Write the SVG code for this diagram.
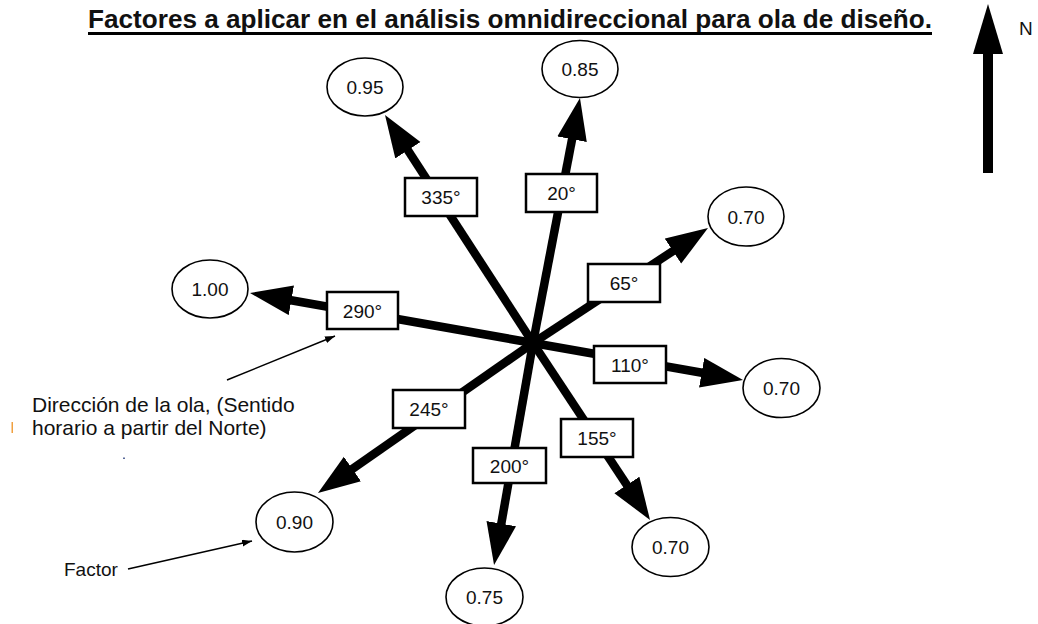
<svg xmlns="http://www.w3.org/2000/svg" width="1038" height="624" viewBox="0 0 1038 624">
<defs>
<style>
text{font-family:"Liberation Sans",Arial,sans-serif;fill:#111}
.lbl{font-size:19px;text-anchor:middle}
.box{fill:#fff;stroke:#000;stroke-width:2.5}
.ell{fill:#fff;stroke:#000;stroke-width:1.6}
.ray{stroke:#000;stroke-width:8.5;fill:none;marker-end:url(#head)}
.thin{stroke:#000;stroke-width:1.5;fill:none;marker-end:url(#small)}
</style>
<marker id="head" markerUnits="userSpaceOnUse" markerWidth="46" markerHeight="32" refX="22" refY="15" orient="auto">
<path d="M0,0 L42,15 L0,30 Z" fill="#000"/>
</marker>
<marker id="small" markerUnits="userSpaceOnUse" markerWidth="12" markerHeight="8" refX="10" refY="3.5" orient="auto">
<path d="M0,0 L10,3.5 L0,7 Z" fill="#000"/>
</marker>
</defs>
<rect width="1038" height="624" fill="#fff"/>
<g id="title">
<text x="88" y="28" font-size="26" font-weight="bold" textLength="844" lengthAdjust="spacingAndGlyphs">Factores a aplicar en el análisis omnidireccional para ola de diseño.</text>
<line x1="88" y1="33.5" x2="932" y2="33.5" stroke="#000" stroke-width="3"/>
</g>
<g id="north">
<rect x="983" y="50" width="10" height="123" fill="#000"/>
<path d="M988,4 L1003,54 L973,54 Z" fill="#000"/>
<text x="1019" y="35" font-size="19">N</text>
</g>
<g id="connectors">
<line class="ray" x1="533" y1="343" x2="395.9" y2="131.8"/>
<line class="ray" x1="533" y1="343" x2="576.2" y2="117.6"/>
<line class="ray" x1="533" y1="343" x2="269.7" y2="296.5"/>
<line class="ray" x1="533" y1="343" x2="691.3" y2="239"/>
<line class="ray" x1="533" y1="343" x2="723.3" y2="376.5"/>
<line class="ray" x1="533" y1="343" x2="639" y2="503.3"/>
<line class="ray" x1="533" y1="343" x2="497.5" y2="545.3"/>
<line class="ray" x1="533" y1="343" x2="334.4" y2="481.6"/>
<line class="thin" x1="227" y1="380" x2="335" y2="336"/>
<line class="thin" x1="128" y1="569" x2="252" y2="541"/>
</g>
<g id="dir335"><rect class="box" x="405" y="178" width="72" height="38"/><text class="lbl" x="441" y="204">335°</text></g>
<g id="dir20"><rect class="box" x="526" y="174" width="71" height="38"/><text class="lbl" x="561.5" y="200">20°</text></g>
<g id="dir290"><rect class="box" x="327" y="292" width="71" height="37"/><text class="lbl" x="362.5" y="317.5">290°</text></g>
<g id="dir65"><rect class="box" x="588" y="264" width="72" height="38"/><text class="lbl" x="624" y="290">65°</text></g>
<g id="dir110"><rect class="box" x="594" y="346" width="72" height="37"/><text class="lbl" x="630" y="371.5">110°</text></g>
<g id="dir155"><rect class="box" x="561" y="419" width="72" height="38"/><text class="lbl" x="597" y="445">155°</text></g>
<g id="dir200"><rect class="box" x="473" y="448" width="73" height="35"/><text class="lbl" x="509.5" y="472.5">200°</text></g>
<g id="dir245"><rect class="box" x="393" y="390" width="72" height="38"/><text class="lbl" x="429" y="416">245°</text></g>
<g id="f095"><ellipse class="ell" cx="365" cy="87" rx="38" ry="29"/><text class="lbl" x="365" y="94">0.95</text></g>
<g id="f085"><ellipse class="ell" cx="580" cy="69" rx="38" ry="28.5"/><text class="lbl" x="580" y="76">0.85</text></g>
<g id="f100"><ellipse class="ell" cx="210" cy="289" rx="38" ry="29"/><text class="lbl" x="210" y="296">1.00</text></g>
<g id="f070a"><ellipse class="ell" cx="746" cy="216.5" rx="38" ry="29.5"/><text class="lbl" x="746" y="223.5">0.70</text></g>
<g id="f070b"><ellipse class="ell" cx="781.5" cy="388" rx="38.5" ry="29.5"/><text class="lbl" x="781.5" y="395">0.70</text></g>
<g id="f070c"><ellipse class="ell" cx="670.5" cy="547" rx="38.5" ry="29.5"/><text class="lbl" x="670.5" y="554">0.70</text></g>
<g id="f075"><ellipse class="ell" cx="484.5" cy="597" rx="38.5" ry="29"/><text class="lbl" x="484.5" y="604">0.75</text></g>
<g id="f090"><ellipse class="ell" cx="294.5" cy="522" rx="38.5" ry="30"/><text class="lbl" x="294.5" y="529">0.90</text></g>
<g id="note-direction">
<text x="32" y="412" font-size="21">Dirección de la ola, (Sentido</text>
<text x="32" y="435" font-size="21">horario a partir del Norte)</text>
<rect x="11.5" y="422" width="1.5" height="11" fill="#f0a040"/>
<rect x="123" y="457.5" width="2" height="1.5" fill="#5a6a9a"/>
</g>
<g id="note-factor">
<text x="64" y="576" font-size="19">Factor</text>
</g>
</svg>
